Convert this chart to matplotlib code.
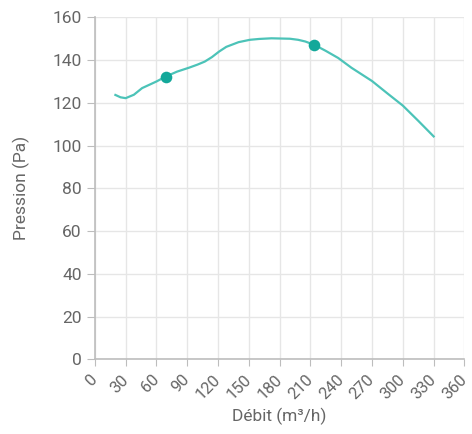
import matplotlib
matplotlib.use('Agg')
import matplotlib.pyplot as plt

# courbe pression / débit
debit = [20, 25, 30, 38, 46, 60, 69, 80, 92, 100, 107, 114, 121, 128, 140, 151, 160,
         172, 190, 198, 205, 214, 225, 237, 250, 270, 285, 300, 315, 330]
pression = [123.7, 122.6, 122.2, 123.8, 126.9, 130, 132.3, 134.6, 136.5, 137.9, 139.3, 141.4,
            144, 146.2, 148.4, 149.5, 149.9, 150.2, 150, 149.5, 148.7, 147.1, 144.3, 141,
            136.4, 130.2, 124.4, 118.7, 111.6, 104.3]

# points de fonctionnement
pts_debit = [69, 213]
pts_pression = [132.3, 147.2]

x_ticks = list(range(0, 361, 30))
y_ticks = list(range(0, 161, 20))

plt.rcParams['font.family'] = ['Roboto', 'DejaVu Sans']

fig = plt.figure(figsize=(4.72, 4.34), dpi=100)
ax = fig.add_axes([0.201, 0.172, 0.783, 0.788])

ax.plot(debit, pression, color='#4cc3b8', lw=1.6, zorder=3, solid_joinstyle='round')
ax.scatter(pts_debit, pts_pression, s=70, color='#13a89a', zorder=4, linewidths=0)

ax.set_xlim(0, 360)
ax.set_ylim(0, 160)
ax.set_xticks(x_ticks)
ax.set_yticks(y_ticks)
ax.set_xticklabels([str(v) for v in x_ticks], rotation=45, ha='right', va='center',
                   rotation_mode='anchor', fontsize=11.8)

ax.grid(True, color='#e6e6e6', lw=1)
ax.set_axisbelow(True)
for s in ['top', 'right']:
    ax.spines[s].set_visible(False)
for s in ['left', 'bottom']:
    ax.spines[s].set_color('#bdbdbd')
    ax.spines[s].set_linewidth(1.2)
ax.tick_params(axis='y', colors='#bdbdbd', labelcolor='#666666', labelsize=12.5, length=6)
ax.tick_params(axis='x', colors='#bdbdbd', labelcolor='#666666', length=5, pad=8)

ax.set_xlabel('Débit (m³/h)', fontsize=12.5, color='#666666', labelpad=4)
ax.set_ylabel('Pression (Pa)', fontsize=12.5, color='#666666', labelpad=16)

fig.savefig('out.png', dpi=100)
